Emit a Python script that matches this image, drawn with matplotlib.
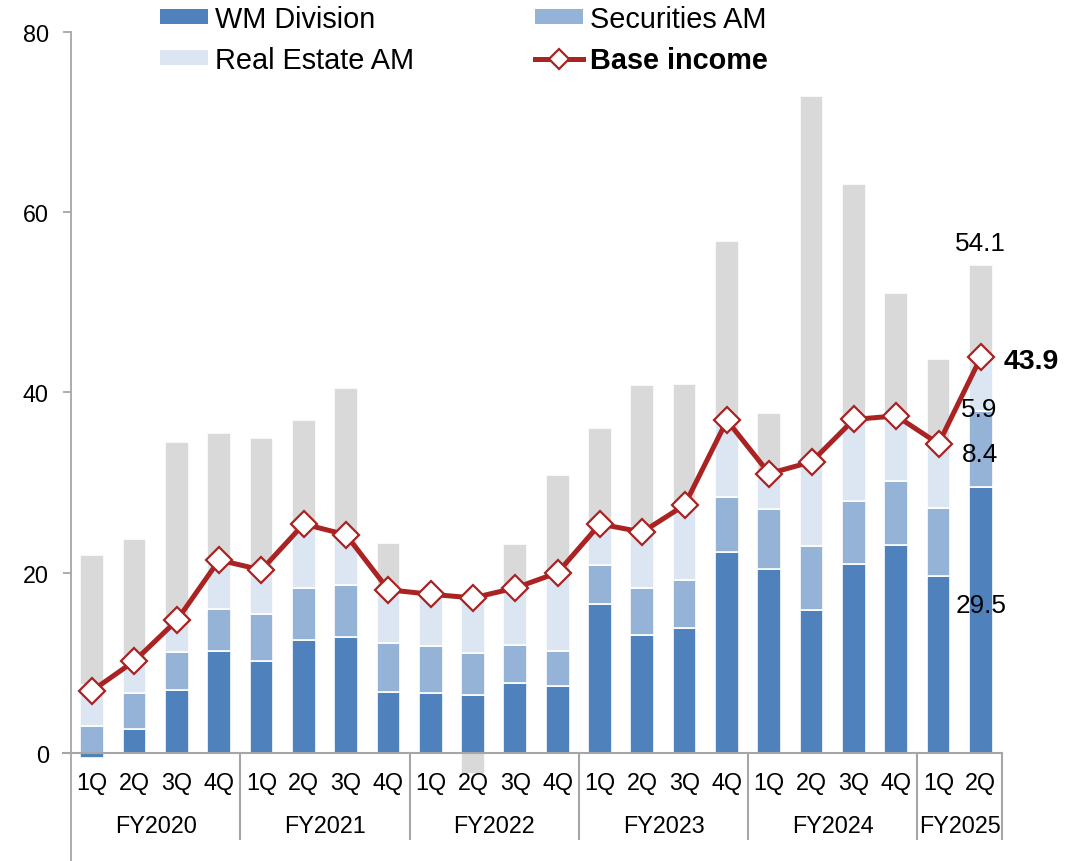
import numpy as np
import matplotlib
matplotlib.use("Agg")
import matplotlib.pyplot as plt
from matplotlib.patches import Patch
from matplotlib.lines import Line2D

plt.rcParams['font.family'] = ['Liberation Sans', 'DejaVu Sans']

quarters = ['1Q', '2Q', '3Q', '4Q'] * 5 + ['1Q', '2Q']
fiscal_years = ['FY2020', 'FY2021', 'FY2022', 'FY2023', 'FY2024', 'FY2025']
fy_sizes = [4, 4, 4, 4, 4, 2]

wm_division = [-0.6, 2.7, 7.0, 11.3, 10.2, 12.5, 12.9, 6.8, 6.6, 6.4, 7.8, 7.4,
               16.5, 13.1, 13.9, 22.3, 20.4, 15.9, 21.0, 23.1, 19.6, 29.5]
securities_am = [3.0, 3.9, 4.2, 4.7, 5.2, 5.8, 5.7, 5.4, 5.3, 4.7, 4.2, 3.9,
                 4.4, 5.2, 5.3, 6.1, 6.7, 7.1, 7.0, 7.1, 7.6, 8.4]
real_estate_am = [4.5, 3.6, 3.5, 5.4, 4.9, 7.1, 5.6, 5.9, 5.7, 6.1, 6.3, 8.7,
                  4.5, 6.2, 8.3, 8.5, 3.9, 9.3, 9.0, 7.2, 7.1, 5.9]
other = [14.5, 13.5, 19.8, 14.1, 14.6, 11.5, 16.3, 5.2, 0.0, -2.3, 4.9, 10.8,
         10.7, 16.3, 13.4, 19.9, 6.7, 40.6, 26.1, 13.6, 9.4, 10.3]
base_income = [6.9, 10.2, 14.7, 21.4, 20.3, 25.4, 24.2, 18.1, 17.6, 17.2, 18.3, 20.0,
               25.4, 24.5, 27.5, 36.9, 31.0, 32.3, 37.0, 37.4, 34.3, 43.9]

label_total = '54.1'
label_base = '43.9'
label_re = '5.9'
label_sec = '8.4'
label_wm = '29.5'

c_wm = '#4F81BD'
c_sec = '#95B3D7'
c_re = '#DCE6F2'
c_other = '#D9D9D9'
c_line = '#AA2222'
c_axis = '#A6A6A6'

W, H = 1081, 862
fig = plt.figure(figsize=(W / 100, H / 100), dpi=100)
ax = fig.add_axes([71 / W, 0, 931 / W, 829 / H])

x = np.arange(len(quarters))
pos_b = np.zeros(len(x))
neg_b = np.zeros(len(x))
for vals, col in [(wm_division, c_wm), (securities_am, c_sec),
                  (real_estate_am, c_re), (other, c_other)]:
    v = np.array(vals, dtype=float)
    bottom = np.where(v >= 0, pos_b, neg_b)
    ax.bar(x, v, bottom=bottom, width=0.56, color=col, edgecolor='white',
           linewidth=1.2, zorder=2)
    pos_b += np.clip(v, 0, None)
    neg_b += np.clip(v, None, 0)

ax.plot(x, base_income, color=c_line, lw=3.6, marker='D', markersize=13.5,
        markerfacecolor='white', markeredgecolor=c_line, markeredgewidth=1.6,
        zorder=5)

ax.set_xlim(-0.5, len(x) - 0.5)
ax.set_ylim(-12, 80)

for s in ['top', 'right', 'bottom']:
    ax.spines[s].set_visible(False)
ax.spines['left'].set_color(c_axis)
ax.spines['left'].set_linewidth(1.3)
ax.set_xticks([])
ax.set_yticks([0, 20, 40, 60, 80])
ax.tick_params(axis='y', direction='out', length=6, width=1.3, color=c_axis,
               labelsize=16.8, pad=10)

# category axis line at zero
ax.plot([-0.69, len(x) - 0.5], [0, 0], color=c_axis, lw=1.5, zorder=4,
        clip_on=False)

# group separators
edges = np.cumsum(fy_sizes) - 0.5
for e in edges:
    ax.plot([e, e], [0, -9.6], color=c_axis, lw=1.5, zorder=4, clip_on=False)

for i, q in enumerate(quarters):
    ax.text(i, -3.25, q, ha='center', va='center', fontsize=16.8)
start = 0
for fy, n in zip(fiscal_years, fy_sizes):
    ax.text(start + (n - 1) / 2, -8.05, fy, ha='center', va='center', fontsize=16.8)
    start += n

# data labels
last = len(x) - 1
ax.text(last, 56.6, label_total, ha='center', va='center', fontsize=18.8, zorder=6)
ax.text(last + 0.53, 43.5, label_base, ha='left', va='center', fontsize=20.5,
        fontweight='bold', zorder=6)
ax.text(last - 0.03, 38.2, label_re, ha='center', va='center', fontsize=18.8, zorder=6)
ax.text(last - 0.03, 33.2, label_sec, ha='center', va='center', fontsize=18.8, zorder=6)
ax.text(last, 16.4, label_wm, ha='center', va='center', fontsize=18.8, zorder=6)

handles = [Patch(facecolor=c_wm), Patch(facecolor=c_re), Patch(facecolor=c_sec),
           Line2D([0], [0], color=c_line, lw=3.6, marker='D', markersize=10.5,
                  markerfacecolor='white', markeredgecolor=c_line,
                  markeredgewidth=1.6)]
labels = ['WM Division', 'Real Estate AM', 'Securities AM', 'Base income']
leg = fig.legend(handles, labels, loc='upper left',
                 bbox_to_anchor=(160 / W, 1 - 6 / H), ncol=2, frameon=False,
                 fontsize=20.8, handlelength=1.65, handleheight=0.45,
                 handletextpad=0.25, columnspacing=4.2, labelspacing=0.45,
                 borderpad=0, borderaxespad=0)
leg.get_texts()[3].set_fontweight('bold')

fig.savefig('out.png', dpi=100)
